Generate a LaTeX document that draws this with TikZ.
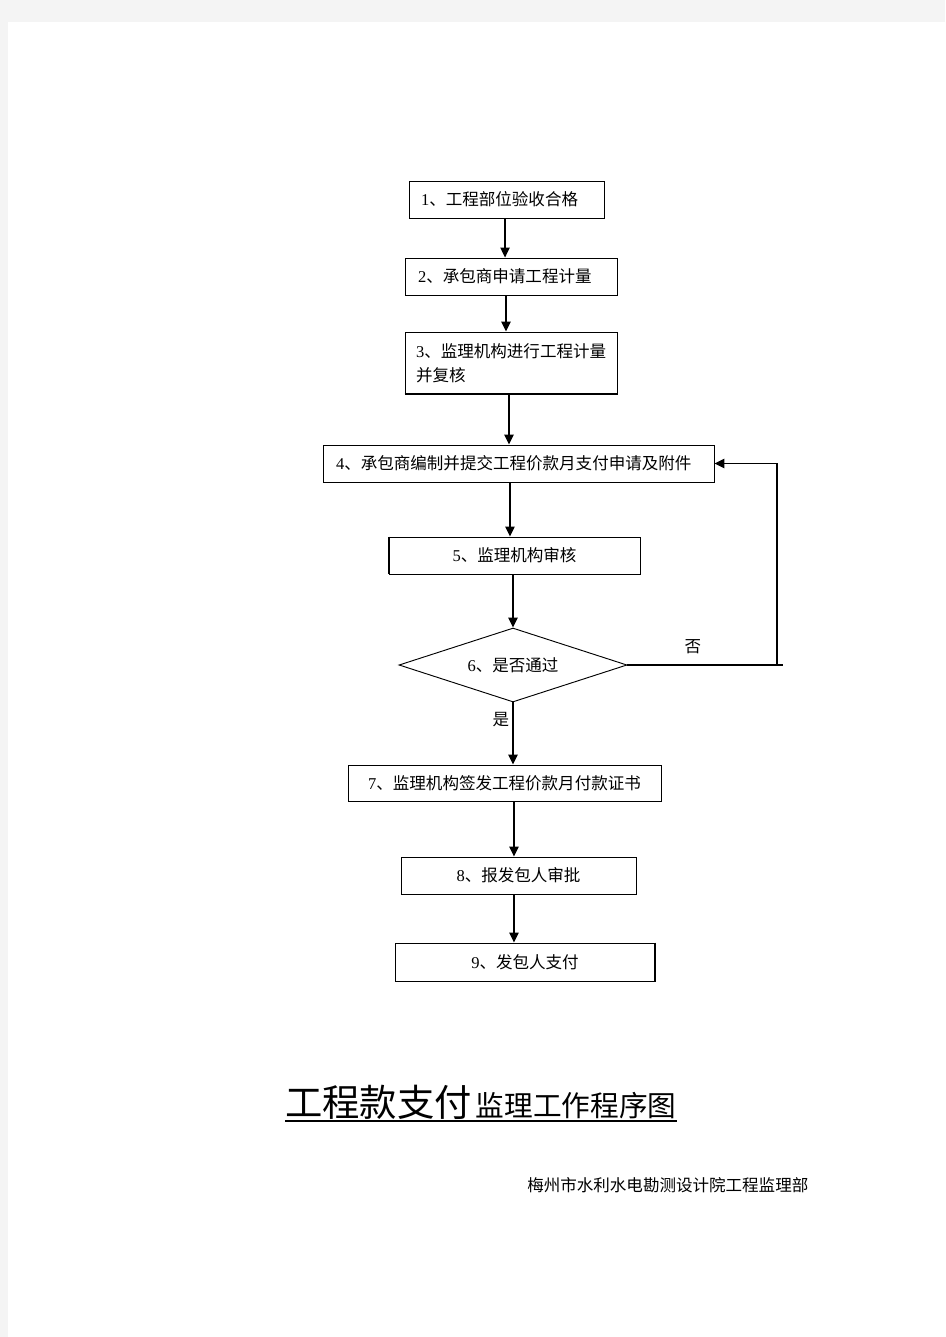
\documentclass[tikz,border=0pt]{standalone}
\usepackage{fontspec}
\setmainfont{Liberation Serif}
\newfontfamily\cjk{Noto Sans CJK SC}
\usetikzlibrary{shapes.geometric,arrows.meta}
\newcommand\numtxt[2]{#1{\cjk #2}}
\definecolor{pagegrey}{HTML}{F4F4F4}
\begin{document}
\begin{tikzpicture}[x=0.75pt,y=-0.75pt,
  every node/.style={font=\fontsize{12.4pt}{18pt}\selectfont},
  box/.style={draw, line width=0.7pt, rectangle, inner ysep=0pt, minimum height=#1},
  box/.default=27.75pt,
  leftbox/.style={box, align=left},
  ctrbox/.style={box, align=center, inner xsep=0pt},
  decision/.style={draw, line width=0.7pt, diamond, aspect=3.08, inner sep=0pt, minimum width=171pt, minimum height=55.5pt},
  arr/.style={line width=1.1pt, -{Triangle[width=7pt,length=7.5pt]}},
  plain/.style={line width=1.1pt},
  lbl/.style={inner sep=0pt}
]
% page background
\fill[pagegrey] (0,0) rectangle (945,1337);
\fill[white] (8,22) rectangle (945,1337);

% boxes
\node[leftbox, inner xsep=9pt, text width=128.25pt] (b1) at (506.5,199.5) {\numtxt{1}{、工程部位验收合格}};
\node[leftbox, inner xsep=9.75pt, text width=139.5pt] (b2) at (511,276.5) {\numtxt{2}{、承包商申请工程计量}};
\node[leftbox, inner xsep=8.25pt, text width=142.5pt, minimum height=46.5pt] (b3) at (511,363) {\numtxt{3}{、监理机构进行工程计量}\\{\cjk 并复核}};
\node[leftbox, inner xsep=9.75pt, text width=273.75pt] (b4) at (518.5,463.5) {\numtxt{4}{、承包商编制并提交工程价款月支付申请及附件}};
\node[ctrbox, minimum width=188.25pt] (b5) at (514.5,555.5) {\numtxt{5}{、监理机构审核}};
\node[decision] (d6) at (513,665) {\numtxt{6}{、是否通过}};
\node[ctrbox, minimum width=234.75pt, minimum height=27pt] (b7) at (504.5,783) {\numtxt{7}{、监理机构签发工程价款月付款证书}};
\node[ctrbox, minimum width=176.25pt] (b8) at (518.5,875.5) {\numtxt{8}{、报发包人审批}};
\node[ctrbox, minimum width=195pt, minimum height=28.5pt] (b9) at (525,962) {\numtxt{9}{、发包人支付}};

% thicker edges as in the reference
\draw[line width=1.5pt] (b3.south west) -- (b3.south east);
\draw[line width=1.5pt] (b5.north west) -- (b5.south west);
\draw[line width=1.5pt] (b9.north east) -- (b9.south east);

% connectors
\draw[arr] ([xshift=-1.1pt]b1.south) -- ([xshift=-1.1pt]b1.south |- b2.north);
\draw[arr] ([xshift=-3.75pt]b2.south) -- ([xshift=-3.75pt]b2.south |- b3.north);
\draw[arr] ([xshift=-1.5pt]b3.south) -- ([xshift=-1.5pt]b3.south |- b4.north);
\draw[arr] ([xshift=-3.4pt]b5.north |- b4.south) -- ([xshift=-3.4pt]b5.north);
\draw[arr] (d6.north |- b5.south) -- (d6.north);
\draw[arr] (d6.south) -- (d6.south |- b7.north);
\draw[arr] ([xshift=-3.4pt]b8.north |- b7.south) -- ([xshift=-3.4pt]b8.north);
\draw[arr] ([xshift=-3.4pt]b8.south) -- ([xshift=-3.4pt]b8.south |- b9.north);

% feedback loop (No)
\coordinate (c1) at (777,665);
\coordinate (c2) at (783,665);
\draw[plain] (d6.east) -- (c2);
\draw[arr] (c1) -- (c1 |- b4.east) -- (b4.east);

% branch labels
\node[lbl] (no) at (693,647) {\cjk 否};
\node[lbl] (yes) at (501,720) {\cjk 是};

% title
\node[lbl, anchor=base west] (title) at (285,1116) {{\cjk\fontsize{28pt}{30pt}\selectfont 工程款支付}\hspace{3pt}{\cjk\fontsize{21.5pt}{24pt}\selectfont 监理工作程序图}};
\draw[line width=1.5pt] ([yshift=-3.75pt]title.base west) -- ([yshift=-3.75pt]title.base east);

% footer
\node[lbl, anchor=base west] (footer) at (527,1191) {\cjk 梅州市水利水电勘测设计院工程监理部};
\end{tikzpicture}
\end{document}
